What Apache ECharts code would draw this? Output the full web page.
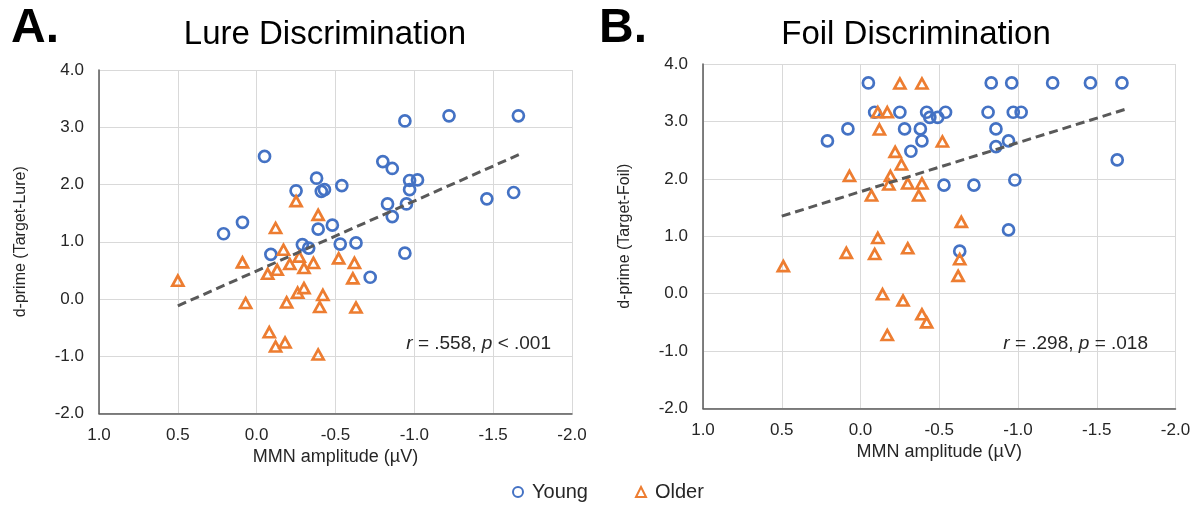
<!DOCTYPE html>
<html>
<head>
<meta charset="utf-8">
<title>MMN amplitude vs discrimination</title>
<script src="https://cdn.jsdelivr.net/npm/echarts@6/dist/echarts.min.js"></script>
<style>
    html, body { margin: 0; padding: 0; background: #fff; }
    #chart { width: 1199px; height: 506px; }
</style>
</head>
<body>
<div id="chart"></div>
<script>
    // MMN amplitude (x) vs d-prime (y)
    const lureYoung = [[-0.05, 2.49], [-0.38, 2.11], [-0.25, 1.89], [-0.41, 1.88], [-0.43, 1.91], [-0.54, 1.98],
        [0.09, 1.34], [0.21, 1.14], [-0.39, 1.22], [-0.48, 1.29], [-0.29, 0.95], [-0.33, 0.89], [-0.53, 0.96],
        [-0.63, 0.98], [-0.09, 0.78], [-0.94, 3.11], [-1.22, 3.20], [-1.66, 3.20], [-0.80, 2.40], [-0.86, 2.28],
        [-0.97, 2.07], [-1.02, 2.08], [-0.97, 1.91], [-0.95, 1.66], [-0.83, 1.66], [-0.86, 1.44], [-1.46, 1.75],
        [-1.63, 1.86], [-0.94, 0.80], [-0.72, 0.38]]
    const lureOlder = [[0.50, 0.32], [0.09, 0.64], [0.07, -0.07], [-0.12, 1.24], [-0.25, 1.71], [-0.39, 1.47],
        [-0.17, 0.86], [-0.21, 0.61], [-0.27, 0.74], [-0.30, 0.54], [-0.36, 0.63], [-0.13, 0.51], [-0.07, 0.44],
        [-0.52, 0.71], [-0.62, 0.63], [-0.61, 0.36], [-0.26, 0.11], [-0.30, 0.19], [-0.42, 0.07], [-0.40, -0.14],
        [-0.19, -0.06], [-0.63, -0.15], [-0.08, -0.58], [-0.12, -0.83], [-0.18, -0.76], [-0.39, -0.97]]
    const foilYoung = [[-0.05, 3.67], [-0.09, 3.16], [-0.25, 3.16], [0.08, 2.87], [0.21, 2.66], [-0.28, 2.87],
        [-0.32, 2.48], [-0.38, 2.87], [-0.39, 2.66], [-0.83, 3.67], [-0.96, 3.67], [-1.22, 3.67], [-1.46, 3.67],
        [-1.66, 3.67], [-0.42, 3.16], [-0.44, 3.07], [-0.49, 3.07], [-0.54, 3.16], [-0.81, 3.16], [-0.97, 3.16],
        [-1.02, 3.16], [-0.86, 2.87], [-0.94, 2.66], [-0.86, 2.56], [-1.63, 2.33], [-0.53, 1.89], [-0.72, 1.89],
        [-0.98, 1.98], [-0.94, 1.11], [-0.63, 0.74]]
    const foilOlder = [[-0.25, 3.66], [-0.39, 3.66], [-0.11, 3.16], [-0.17, 3.16], [-0.12, 2.86], [-0.22, 2.47],
        [-0.26, 2.25], [0.07, 2.05], [-0.19, 2.05], [-0.18, 1.90], [-0.30, 1.92], [-0.39, 1.92], [-0.37, 1.71],
        [-0.07, 1.71], [-0.11, 0.97], [-0.52, 2.65], [-0.64, 1.25], [0.49, 0.48], [0.09, 0.71], [-0.09, 0.69],
        [-0.30, 0.79], [-0.14, -0.01], [-0.27, -0.12], [-0.17, -0.72], [-0.39, -0.36], [-0.42, -0.50],
        [-0.63, 0.60], [-0.62, 0.31]]
    // linear trend lines (end points)
    const lureTrend = [[0.5, -0.12], [-1.67, 2.53]]
    const foilTrend = [[0.5, 1.35], [-1.68, 3.21]]

    const groupNames = ['Young', 'Older']
    const panelTitles = ['Lure Discrimination', 'Foil Discrimination']
    const yAxisNames = ['d-prime (Target-Lure)', 'd-prime (Target-Foil)']
    const xAxisName = 'MMN amplitude (µV)'
    const stats = ['{i|r} = .558, {i|p} < .001', '{i|r} = .298, {i|p} = .018']

    const font = 'Liberation Sans, Arial, sans-serif'
    const blue = '#4472C4'
    const orange = '#ED7D31'

    let myChart = echarts.init(document.getElementById('chart'))

    function xAxisFor(i) {
        return {
            gridIndex: i,
            type: 'value',
            min: -2,
            max: 1,
            interval: 0.5,
            inverse: true,
            name: xAxisName,
            nameLocation: 'middle',
            nameGap: 34,
            nameTextStyle: { color: '#262626', fontSize: 18, fontFamily: font },
            axisLine: { onZero: false, lineStyle: { color: '#595959', width: 1.5 } },
            axisTick: { show: false },
            axisLabel: {
                margin: 13,
                color: '#262626',
                fontSize: 17,
                fontFamily: font,
                formatter: v => v.toFixed(1)
            },
            splitLine: { show: true, lineStyle: { color: '#d9d9d9', width: 1 } }
        }
    }

    function yAxisFor(i) {
        return {
            gridIndex: i,
            type: 'value',
            min: -2,
            max: 4,
            interval: 1,
            name: yAxisNames[i],
            nameLocation: 'middle',
            nameRotate: 90,
            nameGap: 70,
            nameTextStyle: { color: '#262626', fontSize: 16, fontFamily: font },
            axisLine: { show: true, onZero: false, lineStyle: { color: '#595959', width: 1.5 } },
            axisTick: { show: false },
            axisLabel: {
                margin: 15,
                color: '#262626',
                fontSize: 17,
                fontFamily: font,
                formatter: v => v.toFixed(1)
            },
            splitLine: { show: true, lineStyle: { color: '#d9d9d9', width: 1 } }
        }
    }

    function scatter(name, data, i, color, symbol, size) {
        return {
            name: name,
            type: 'scatter',
            xAxisIndex: i,
            yAxisIndex: i,
            symbol: symbol,
            symbolSize: size,
            itemStyle: { color: 'rgba(255,255,255,0)', borderColor: color, borderWidth: 2.7, opacity: 1 },
            data: data,
            z: 2
        }
    }

    function trend(data, i) {
        return {
            type: 'line',
            xAxisIndex: i,
            yAxisIndex: i,
            symbol: 'none',
            silent: true,
            lineStyle: { color: '#595959', width: 3, type: [9, 5] },
            data: data,
            z: 3
        }
    }

    const statStyle = {
        fontSize: 19, fontWeight: 'normal', color: '#262626', fontFamily: font,
        rich: { i: { fontStyle: 'italic', fontSize: 19, color: '#262626', fontFamily: font } }
    }

    let option = {
        backgroundColor: '#fff',
        animation: false,
        title: [
            { text: 'A.', left: 6, top: 0, textStyle: { fontSize: 48, fontWeight: 'bold', color: '#000', fontFamily: font } },
            { text: 'B.', left: 594, top: 0, textStyle: { fontSize: 48, fontWeight: 'bold', color: '#000', fontFamily: font } },
            { text: panelTitles[0], left: 320, textAlign: 'center', top: 13, textStyle: { fontSize: 33, fontWeight: 'normal', color: '#000', fontFamily: font } },
            { text: panelTitles[1], left: 911, textAlign: 'center', top: 13, textStyle: { fontSize: 33, fontWeight: 'normal', color: '#000', fontFamily: font } },
            { text: stats[0], right: 643, top: 329, textStyle: statStyle },
            { text: stats[1], right: 46, top: 329, textStyle: statStyle }
        ],
        legend: {
            data: groupNames,
            left: 507,
            top: 477,
            itemWidth: 10,
            itemHeight: 10,
            itemGap: 47,
            textStyle: { fontSize: 20, color: '#262626', fontFamily: font, padding: [0, 0, 0, 4] }
        },
        grid: [
            { left: 99, top: 70, width: 473, height: 343.5 },
            { left: 703, top: 64, width: 472.5, height: 344.5 }
        ],
        xAxis: [xAxisFor(0), xAxisFor(1)],
        yAxis: [yAxisFor(0), yAxisFor(1)],
        series: [
            scatter(groupNames[0], lureYoung, 0, blue, 'circle', 11),
            scatter(groupNames[1], lureOlder, 0, orange, 'triangle', [11, 10]),
            trend(lureTrend, 0),
            scatter(groupNames[0], foilYoung, 1, blue, 'circle', 11),
            scatter(groupNames[1], foilOlder, 1, orange, 'triangle', [11, 10]),
            trend(foilTrend, 1)
        ]
    }
    myChart.setOption(option)
</script>
</body>
</html>
